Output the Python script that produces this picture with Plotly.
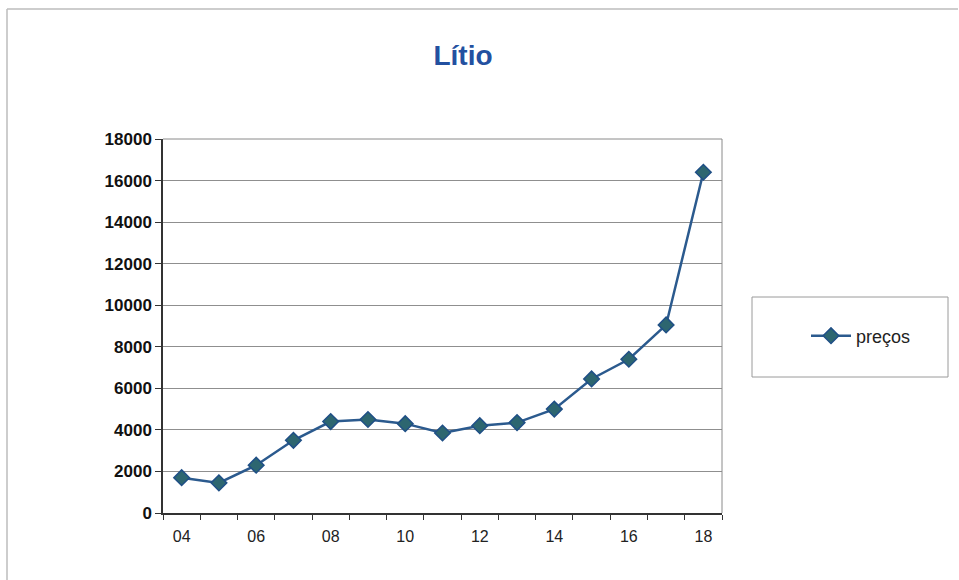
import plotly.graph_objects as go

years = list(range(2004, 2019))
precos = [1700, 1450, 2300, 3500, 4400, 4500, 4300, 3850, 4200, 4350, 5000, 6450, 7400, 9050, 16400]
tick_years = [2004, 2006, 2008, 2010, 2012, 2014, 2016, 2018]
tick_labels = ["04", "06", "08", "10", "12", "14", "16", "18"]
y_ticks = list(range(0, 18001, 2000))

FONT = "Arial, Liberation Sans, sans-serif"

# plot area in pixels
L, R, T, B = 163, 722, 139, 513
W, H = 959, 580
pw, ph = R - L, B - T

def px(x):
    return (x - L) / pw

def py(y):
    return (B - y) / ph

fig = go.Figure()
fig.add_trace(go.Scatter(
    x=years, y=precos, mode="lines+markers", name="preços",
    line=dict(color="#2b5a8e", width=2.5),
    marker=dict(symbol="diamond", size=12, color="#2d6670",
                line=dict(color="#1f4f86", width=1.5)),
))

shapes = [
    # outer chart border (top and left)
    dict(type="line", xref="paper", yref="paper", x0=px(7), x1=px(958), y0=py(9), y1=py(9),
         line=dict(color="#bdbdbd", width=1.5)),
    dict(type="line", xref="paper", yref="paper", x0=px(7), x1=px(7), y0=py(9), y1=py(580),
         line=dict(color="#bdbdbd", width=1.5)),
    # plot area border (top and right)
    dict(type="line", xref="paper", yref="paper", x0=0, x1=1, y0=1, y1=1,
         line=dict(color="#8a8a8a", width=1)),
    dict(type="line", xref="paper", yref="paper", x0=1, x1=1, y0=0, y1=1,
         line=dict(color="#8a8a8a", width=1)),
    # legend box
    dict(type="rect", xref="paper", yref="paper", x0=px(752), x1=px(948), y0=py(377), y1=py(297),
         line=dict(color="#9a9a9a", width=1), fillcolor="rgba(0,0,0,0)"),
]

fig.update_layout(
    width=W, height=H,
    margin=dict(l=L, r=W - R, t=T, b=H - B),
    paper_bgcolor="white", plot_bgcolor="white",
    title=dict(text="<b>Lítio</b>", x=463 / W, xref="container", xanchor="center",
               y=1 - 55 / H, yref="container", yanchor="middle",
               font=dict(family=FONT, size=28, color="#2350a0")),
    showlegend=True,
    legend=dict(x=px(806), y=py(336), xanchor="left", yanchor="middle",
                bgcolor="rgba(0,0,0,0)", borderwidth=0,
                font=dict(family=FONT, size=18, color="#222"),
                itemwidth=40),
    shapes=shapes,
    xaxis=dict(range=[2003.5, 2018.5], tickvals=tick_years, ticktext=tick_labels,
               ticks="", showgrid=False, zeroline=False,
               showline=True, linecolor="#333", linewidth=1.5,
               ticklabelstandoff=8,
               tickfont=dict(family=FONT, size=16, color="#222"),
               minor=dict(tick0=2003.5, dtick=1, ticks="outside", ticklen=5,
                          tickcolor="#333", tickwidth=1, showgrid=False)),
    yaxis=dict(range=[0, 18000], tickvals=y_ticks, ticks="outside", ticklen=6,
               tickcolor="#333", showgrid=True, gridcolor="#8f8f8f", gridwidth=1,
               zeroline=False, showline=True, linecolor="#333", linewidth=1.5,
               tickformat="d",
               tickfont=dict(family=FONT, size=17, color="#111", weight="bold")),
)

fig.write_html("out.html")
